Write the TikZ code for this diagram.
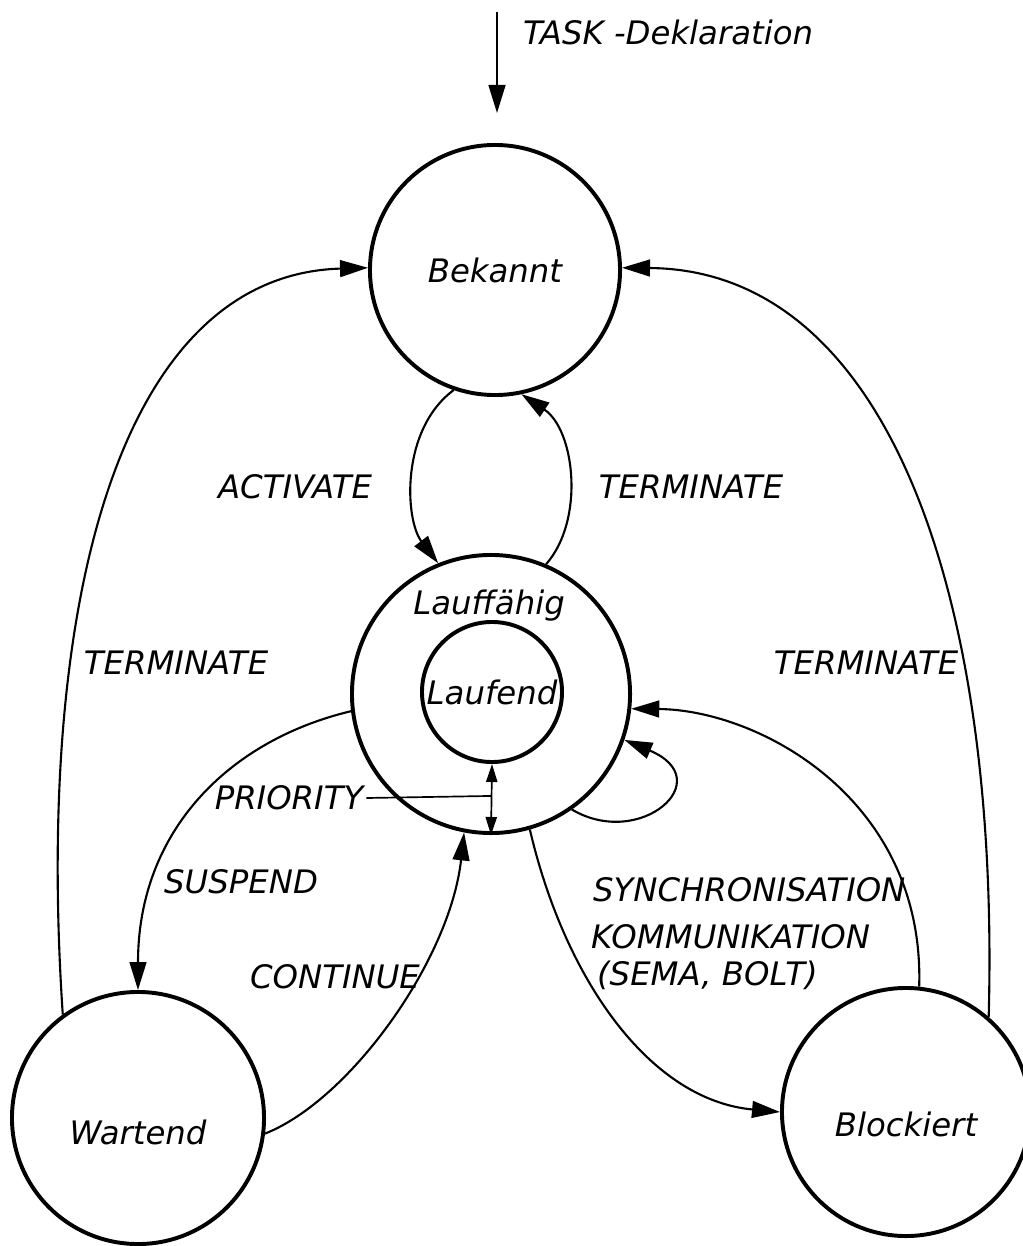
\documentclass[tikz,border=0pt]{standalone}
\usepackage{fontspec}
\setmainfont{DejaVu Sans}
\usetikzlibrary{arrows.meta}
\tikzstyle{zustand}=[circle, draw, line width=2.8pt, inner sep=0pt, font=\fontsize{23}{27}\selectfont\itshape]
\tikzstyle{beschriftung}=[inner sep=2pt, font=\fontsize{23}{27}\selectfont\itshape]
\tikzstyle{uebergang}=[line width=1.5pt, -{Triangle[length=0.7cm,width=0.42cm]}]
\tikzstyle{prioritaet}=[line width=1.2pt, {Triangle[length=0.45cm,width=0.28cm]}-{Triangle[length=0.45cm,width=0.28cm]}]

\begin{document}
\begin{tikzpicture}[x=0.025cm,y=-0.025cm]
  \useasboundingbox (0,0) rectangle (1022,1246);

  %% Zustaende
  \draw (495,270) node[zustand,minimum size=6.25cm] (bekannt) {Bekannt};
  \draw (491,694) node[zustand,minimum size=6.95cm] (lauffaehig) {};
  \draw (492,692) node[zustand,minimum size=3.5cm] (laufend) {Laufend};
  \draw (138,1118) node[zustand,minimum size=6.3cm,
    label={[beschriftung,yshift=-0.35cm]center:Wartend}] (wartend) {};
  \draw (906,1112) node[zustand,minimum size=6.2cm,
    label={[beschriftung,yshift=-0.3cm]center:Blockiert}] (blockiert) {};
  \draw (489,606) node[beschriftung] (lauffaehigtext) {Lauffähig};

  %% Deklaration
  \coordinate (dekl) at (497,12);
  \coordinate (deklende) at (497,113);
  \draw[uebergang] (dekl) -- (deklende);
  \draw (520,32) node[beschriftung,anchor=west] (dekltext) {TASK -Deklaration};

  %% Uebergaenge
  \draw[uebergang] (bekannt.-109) .. controls (400,430) and (405,520) .. (lauffaehig.112);
  \draw[uebergang] (lauffaehig.67) .. controls (585,520) and (575,430) .. (bekannt.-78);
  \draw[uebergang] (wartend.126) .. controls (35,600) and (120,275) .. (bekannt.179);
  \draw[uebergang] (blockiert.49) .. controls (1000,600) and (890,270) .. (bekannt.1);
  \draw[uebergang] (lauffaehig.187) .. controls (230,740) and (138,830) .. (wartend.90);
  \draw[uebergang] (wartend.-7) .. controls (350,1100) and (450,960) .. (lauffaehig.259);
  \draw[uebergang] (lauffaehig.-74) .. controls (565,980) and (650,1100) .. (blockiert.180);
  \draw[uebergang] (blockiert.84) .. controls (925,800) and (760,710) .. (lauffaehig.-6);
  \draw[uebergang] (lauffaehig.-55) .. controls (640,850) and (720,780) .. (lauffaehig.-19);

  %% Prioritaet
  \draw[prioritaet] (laufend.south) -- coordinate[pos=0.45] (prio) (lauffaehig.south);
  \draw (289,798) node[beschriftung] (priority) {PRIORITY};
  \draw[line width=1.2pt] (priority.east) -- (prio);

  %% Beschriftungen
  \draw (295,487) node[beschriftung] (activate) {ACTIVATE};
  \draw (691,487) node[beschriftung] (termoben) {TERMINATE};
  \draw (176,663) node[beschriftung] (termlinks) {TERMINATE};
  \draw (866,663) node[beschriftung] (termrechts) {TERMINATE};
  \draw (241,882) node[beschriftung] (suspend) {SUSPEND};
  \draw (335,977) node[beschriftung] (continue) {CONTINUE};
  \draw (590,890) node[beschriftung,anchor=west] (sync) {SYNCHRONISATION};
  \draw (588,937) node[beschriftung,anchor=west] (komm) {KOMMUNIKATION};
  \draw (594,975) node[beschriftung,anchor=west] (sema) {(SEMA, BOLT)};
\end{tikzpicture}
\end{document}
